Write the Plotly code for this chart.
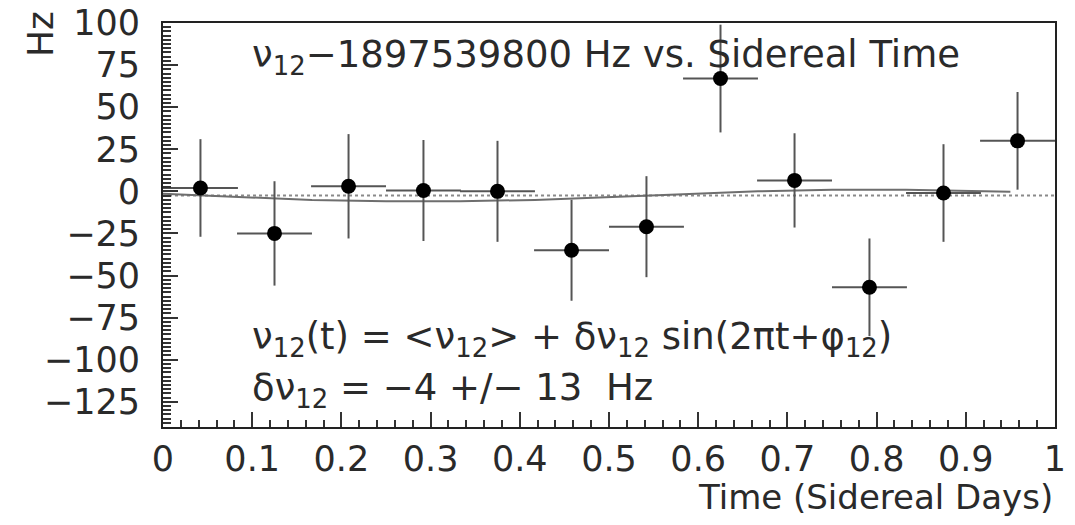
import plotly.graph_objects as go

# Data
t_centers = [0.042, 0.125, 0.208, 0.292, 0.375, 0.458, 0.542, 0.625, 0.708, 0.792, 0.875, 0.958]
nu_values = [2, -25, 3, 0.5, 0, -35, -21, 67, 6.5, -57, -1, 30]
nu_errors = [29, 31, 31, 30, 30, 30, 30, 32, 28, 29, 29, 29]
t_halfwidth = [0.042] * 12

fit_t = [0.0, 0.083, 0.167, 0.25, 0.333, 0.417, 0.5, 0.583, 0.667, 0.75, 0.833, 0.917, 0.95]
fit_nu = [-1.4, -3.5, -5.2, -5.9, -5.9, -5.1, -3.6, -1.7, 0.0, 0.9, 0.9, 0.1, -0.3]

mean_t = [0.0, 1.0]
mean_nu = [-2.5, -2.5]

x_ticks = [0, 0.1, 0.2, 0.3, 0.4, 0.5, 0.6, 0.7, 0.8, 0.9, 1.0]
x_ticklabels = ["0", "0.1", "0.2", "0.3", "0.4", "0.5", "0.6", "0.7", "0.8", "0.9", "1"]
y_ticks = [-125, -100, -75, -50, -25, 0, 25, 50, 75, 100]
y_ticklabels = ["\u2212125", "\u2212100", "\u221275", "\u221250", "\u221225", "0", "25", "50", "75", "100"]

FONT = "DejaVu Sans, Liberation Sans, sans-serif"
TXT = "#2a2a2a"

fig = go.Figure()

fig.add_trace(go.Scatter(
    x=mean_t, y=mean_nu, mode="lines",
    line=dict(color="#8a8a8a", width=2, dash="dot"),
    showlegend=False, hoverinfo="skip"))

fig.add_trace(go.Scatter(
    x=fit_t, y=fit_nu, mode="lines",
    line=dict(color="#6e6e6e", width=2),
    showlegend=False, hoverinfo="skip"))

fig.add_trace(go.Scatter(
    x=t_centers, y=nu_values, mode="markers",
    marker=dict(color="black", size=15),
    error_y=dict(type="data", array=nu_errors, visible=True, color="#555555", thickness=2, width=0),
    error_x=dict(type="data", array=t_halfwidth, visible=True, color="#555555", thickness=2, width=0),
    showlegend=False))

fig.update_layout(
    width=1067, height=517,
    margin=dict(l=155, r=20, t=15, b=98, autoexpand=False),
    paper_bgcolor="white", plot_bgcolor="white",
    font=dict(family=FONT, color=TXT),
    xaxis=dict(
        range=[0, 1], showgrid=False, zeroline=False, automargin=False,
        showline=True, linecolor="#222", linewidth=2, mirror=True,
        tickmode="array", tickvals=x_ticks, ticktext=x_ticklabels,
        ticks="inside", ticklen=15, tickwidth=1.5, tickcolor="#333",
        ticklabeloverflow="allow",
        tickfont=dict(size=35, family=FONT, color=TXT),
        minor=dict(ticks="inside", dtick=0.02, tick0=0, ticklen=7, tickwidth=1.5, tickcolor="#333"),
    ),
    yaxis=dict(
        range=[-140, 100], showgrid=False, zeroline=False, automargin=False,
        showline=True, linecolor="#222", linewidth=2, mirror=True,
        tickmode="array", tickvals=y_ticks, ticktext=y_ticklabels,
        ticks="inside", ticklen=15, tickwidth=1.5, tickcolor="#333",
        ticklabeloverflow="allow", ticklabelstandoff=14,
        tickfont=dict(size=35, family=FONT, color=TXT),
        minor=dict(ticks="inside", dtick=2.5, tick0=0, ticklen=8, tickwidth=1.5, tickcolor="#333"),
    ),
    annotations=[
        dict(text="\u03bd<sub>12</sub>\u22121897539800 Hz vs. Sidereal Time",
             x=0.0975, y=80, xref="x", yref="y", xanchor="left", yanchor="middle",
             showarrow=False, font=dict(size=37, family=FONT, color=TXT)),
        dict(text="\u03bd<sub>12</sub>(t) = &lt;\u03bd<sub>12</sub>&gt; + \u03b4\u03bd<sub>12</sub> sin(2\u03c0t+\u03c6<sub>12</sub>)",
             x=0.0975, y=-88, xref="x", yref="y", xanchor="left", yanchor="middle",
             showarrow=False, font=dict(size=37, family=FONT, color=TXT)),
        dict(text="\u03b4\u03bd<sub>12</sub> = \u22124 +/\u2212 13  Hz",
             x=0.0975, y=-118, xref="x", yref="y", xanchor="left", yanchor="middle",
             showarrow=False, font=dict(size=37, family=FONT, color=TXT)),
        dict(text="Time (Sidereal Days)",
             x=1.0, y=0, xref="paper", yref="paper", xanchor="right", yanchor="middle",
             yshift=-70, showarrow=False, font=dict(size=34, family=FONT, color=TXT)),
        dict(text="Hz", textangle=-90,
             x=0, y=1, xref="paper", yref="paper", xanchor="center", yanchor="top",
             xshift=-123, yshift=14, showarrow=False, font=dict(size=36, family=FONT, color=TXT)),
    ],
)

fig.write_html("out.html")
